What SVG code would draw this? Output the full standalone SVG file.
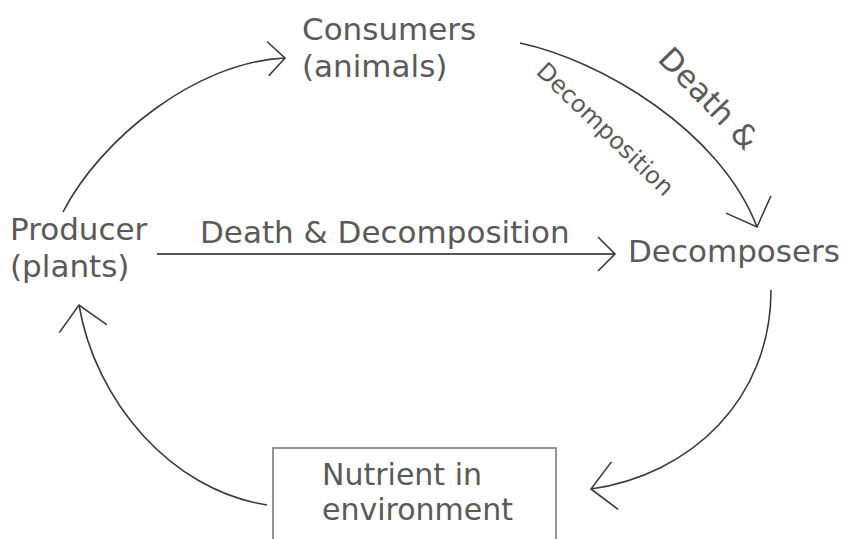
<svg xmlns="http://www.w3.org/2000/svg" width="842" height="539" viewBox="0 0 842 539">
<style>
  .lbl { font-family: "DejaVu Sans", Verdana, sans-serif; font-size: 31px; fill: #5a5a5a; }
  .small { font-size: 24px; }
  .conn { fill: none; stroke: #3a3a3a; stroke-width: 1.6; }
  .box { fill: #ffffff; stroke: #7a7a7a; stroke-width: 1.6; }
</style>
<defs>
  <marker id="headL" markerUnits="userSpaceOnUse" viewBox="-30 -30 32 60" markerWidth="32" markerHeight="60" refX="0" refY="0" orient="auto" overflow="visible">
    <path d="M-24,-24 L0,0 L-24,24" fill="none" stroke="#3a3a3a" stroke-width="1.6"/>
  </marker>
  <marker id="headS" markerUnits="userSpaceOnUse" viewBox="-20 -20 22 40" markerWidth="22" markerHeight="40" refX="0" refY="0" orient="auto" overflow="visible">
    <path d="M-17,-17 L0,0 L-17,17" fill="none" stroke="#3a3a3a" stroke-width="1.6"/>
  </marker>
</defs>
<rect width="842" height="539" fill="#ffffff"/>
<g id="connectors">
  <path class="conn" d="M63,212 C100,140 195,62 285,58" marker-end="url(#headS)"/>
  <path class="conn" d="M520,43 C600,60 720,130 757,227" marker-end="url(#headL)"/>
  <path class="conn" d="M157,254 L615,254" marker-end="url(#headS)" style="stroke:#555;stroke-width:2"/>
  <path class="conn" d="M771,290 C771,400 690,475 591,489" marker-end="url(#headL)"/>
  <path class="conn" d="M267,505 C170,490 95,400 79,305" marker-end="url(#headL)"/>
  <text class="lbl" x="200" y="243">Death &amp; Decomposition</text>
  <text class="lbl" transform="translate(701,106) rotate(46)" text-anchor="middle">Death &amp;</text>
  <text class="lbl small" transform="translate(599.5,135) rotate(44)" text-anchor="middle">Decomposition</text>
</g>
<g id="consumers">
  <text class="lbl" x="302" y="40">Consumers</text>
  <text class="lbl" x="302" y="77">(animals)</text>
</g>
<g id="producer">
  <text class="lbl" x="10" y="240">Producer</text>
  <text class="lbl" x="10" y="277">(plants)</text>
</g>
<g id="decomposers">
  <text class="lbl" x="628" y="262">Decomposers</text>
</g>
<g id="nutrient">
  <rect class="box" x="273" y="448" width="283" height="100"/>
  <text class="lbl" x="322" y="485" style="font-size:30px">Nutrient in</text>
  <text class="lbl" x="322" y="520" style="font-size:30px">environment</text>
</g>
</svg>
